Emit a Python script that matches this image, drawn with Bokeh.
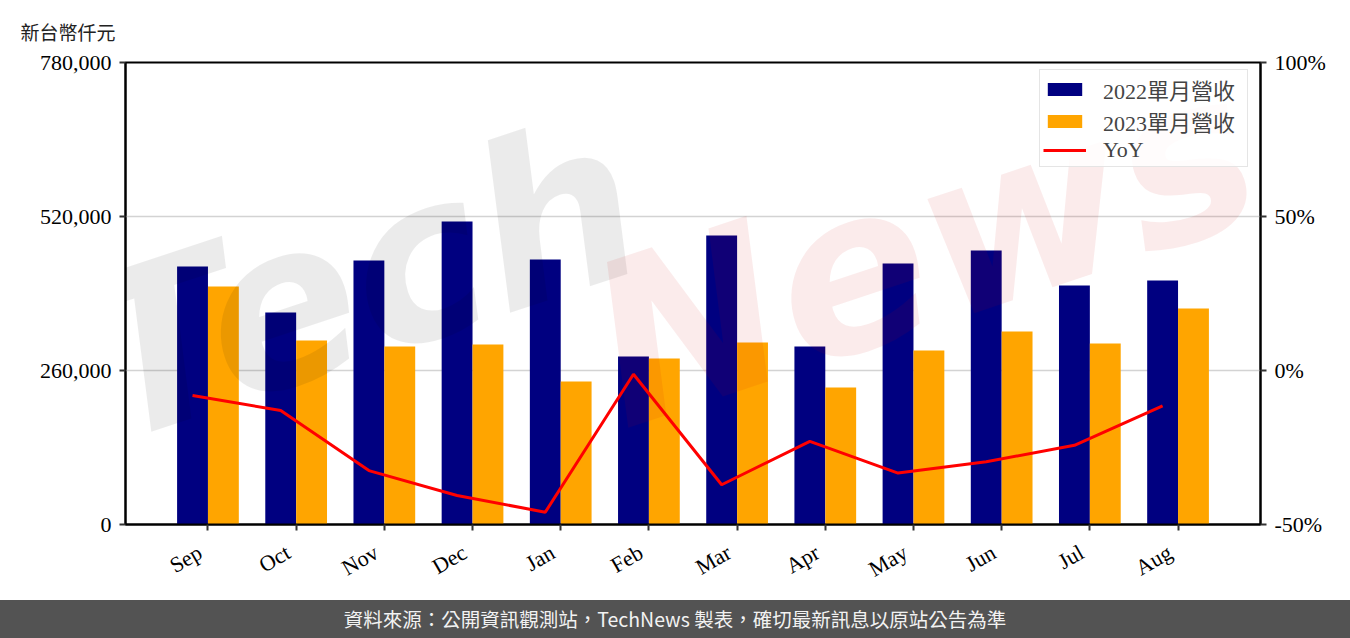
import math
from bokeh.plotting import figure
from bokeh.models import (ColumnDataSource, Range1d, LinearAxis, FixedTicker,
                          NumeralTickFormatter, PrintfTickFormatter, Legend,
                          LegendItem, Label, Title, Div)
from bokeh.transform import dodge
from bokeh.layouts import column
from bokeh.embed import file_html
from bokeh.resources import INLINE

# ---------------- data ----------------
months = ["Sep", "Oct", "Nov", "Dec", "Jan", "Feb", "Mar", "Apr", "May", "Jun", "Jul", "Aug"]
rev_2022 = [435600, 357900, 445700, 511600, 447400, 283600, 487900, 300500, 440600, 462600, 403500, 412000]
rev_2023 = [401800, 310600, 300500, 303900, 241400, 280300, 307300, 231300, 293800, 325800, 305600, 364700]
yoy_pct = [-8.1, -13.0, -32.5, -40.6, -46.0, -1.2, -37.1, -23.0, -33.3, -29.6, -24.3, -11.5]
left_ticks = [0, 260000, 520000, 780000]
right_ticks = [-50, 0, 50, 100]
series_labels = ["2022單月營收", "2023單月營收", "YoY"]
unit_label = "新台幣仟元"
footer_text = "資料來源：公開資訊觀測站，TechNews 製表，確切最新訊息以原站公告為準"

SERIF = "Liberation Serif, Noto Sans CJK TC"

idx = list(range(len(months)))
src = ColumnDataSource(dict(x=idx, r22=rev_2022, r23=rev_2023, yoy=yoy_pct))

p = figure(x_range=Range1d(-0.935, 11.935), y_range=Range1d(0, 780000),
           frame_width=1135, frame_height=462,
           min_border_left=125, min_border_right=90, min_border_top=62, min_border_bottom=76,
           output_backend="svg", toolbar_location=None)
p.extra_y_ranges = {"yoy": Range1d(-50, 100)}

r1 = p.vbar(x=dodge("x", -0.175), top="r22", width=0.35, source=src,
            fill_color="#000080", line_color=None)
r2 = p.vbar(x=dodge("x", 0.175), top="r23", width=0.35, source=src,
            fill_color="#FFA500", line_color=None)
r3 = p.line(x=dodge("x", -0.175), y="yoy", source=src, y_range_name="yoy",
            line_color="#FF0000", line_width=3)

# axes
p.yaxis.ticker = FixedTicker(ticks=left_ticks)
p.yaxis.formatter = NumeralTickFormatter(format="0,0")

ax_r = LinearAxis(y_range_name="yoy", ticker=FixedTicker(ticks=right_ticks),
                  formatter=PrintfTickFormatter(format="%d%%"))
p.add_layout(ax_r, "right")

for ax in p.axis:
    ax.axis_line_color = "black"
    ax.axis_line_width = 2
    ax.major_tick_line_color = "#333333"
    ax.major_tick_line_width = 2
    ax.major_tick_out = 6
    ax.major_tick_in = 0
    ax.minor_tick_line_color = None
    ax.major_label_text_font = SERIF
    ax.major_label_text_font_size = "22px"
    ax.major_label_text_color = "black"
    ax.major_label_standoff = 8

# bottom axis: tick marks only
xa = p.xaxis[0]
xa.ticker = FixedTicker(ticks=idx)
xa.major_label_overrides = {i: "" for i in idx}
xa.major_label_text_font_size = "1px"
xa.major_label_standoff = 0

# month labels, right end anchored just left of each tick (rotated 30 deg)
lab_ticks = [round(i - 0.09, 2) for i in idx]
xl = LinearAxis(ticker=FixedTicker(ticks=lab_ticks),
                major_label_overrides={t: m for t, m in zip(lab_ticks, months)},
                axis_line_color=None, major_tick_line_color=None,
                minor_tick_line_color=None, major_label_orientation=math.pi / 6,
                major_label_standoff=14, major_label_text_font=SERIF,
                major_label_text_font_size="22px", major_label_text_color="black")
p.add_layout(xl, "below")

p.xgrid.visible = False
p.ygrid.ticker = FixedTicker(ticks=left_ticks)
p.ygrid.grid_line_color = "#d3d3d3"
p.ygrid.grid_line_width = 1.5
p.outline_line_color = "black"
p.outline_line_width = 2
p.background_fill_color = "white"
p.border_fill_color = "white"

# watermark
p.add_layout(Label(x=5, y=30, x_units="screen", y_units="screen", text="Tech",
                   angle=0.32, text_font="DejaVu Sans", text_font_style="bold italic",
                   text_font_size="225px", text_color="black", text_alpha=0.08))
p.add_layout(Label(x=515, y=45, x_units="screen", y_units="screen", text="News",
                   angle=0.32, text_font="DejaVu Sans", text_font_style="bold italic",
                   text_font_size="225px", text_color="#d00000", text_alpha=0.08))

# unit label (as a left-aligned title pulled out over the left border)
title = Title(text=unit_label, align="left", offset=-105, standoff=31,
              vertical_align="top",
              text_font="Noto Sans CJK TC", text_font_size="19px",
              text_font_style="normal", text_color="#222222")
p.add_layout(title, "above")

legend = Legend(items=[LegendItem(label=series_labels[0], renderers=[r1]),
                       LegendItem(label=series_labels[1], renderers=[r2]),
                       LegendItem(label=series_labels[2], renderers=[r3])],
                location=(914, 357))
legend.padding = 3
legend.spacing = 0
legend.glyph_width = 43
legend.glyph_height = 16
legend.label_height = 22
legend.label_width = 141
legend.label_standoff = 17
legend.label_text_font = SERIF
legend.label_text_font_size = "22px"
legend.label_text_line_height = 1.0
legend.border_line_color = "#cccccc"
legend.border_line_width = 1.5
legend.background_fill_alpha = 0.85
p.add_layout(legend)

# footer
footer = Div(text=('<div style="width:1350px;height:38px;line-height:38px;'
                   'background:#535353;color:#f2f2f2;text-align:center;'
                   'font-family:\'Noto Sans CJK TC\',sans-serif;font-size:19.5px;">'
                   + footer_text + '</div>'),
             width=1350, height=38, margin=0)

layout = column(p, footer, spacing=0)
open("out.html", "w").write(file_html(layout, INLINE))
